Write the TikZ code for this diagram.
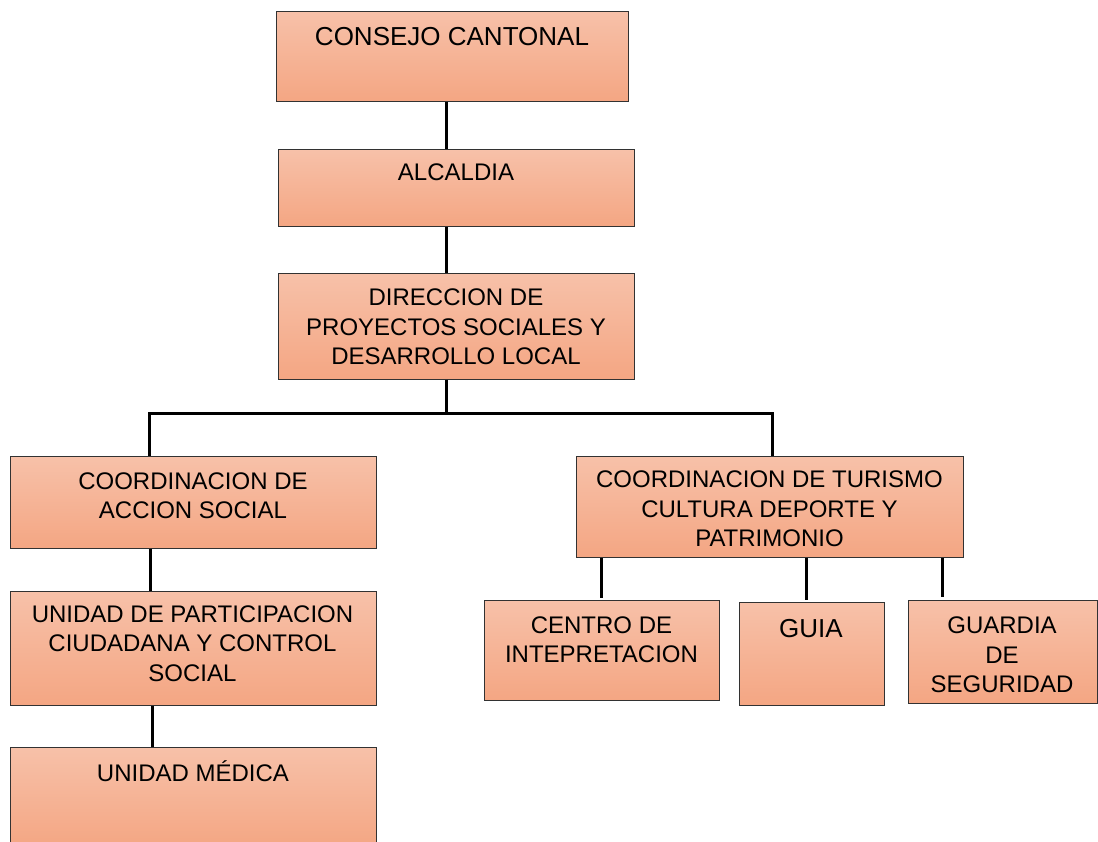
\documentclass[tikz,border=0pt]{standalone}
\usepackage{fontspec}
\setmainfont{Liberation Sans}
\definecolor{boxtop}{RGB}{247,193,169}
\definecolor{boxbot}{RGB}{244,166,131}
\definecolor{boxline}{RGB}{50,50,50}
\begin{document}
\begin{tikzpicture}[x=1pt,y=-1pt,
  box/.style={draw=boxline,line width=1pt,top color=boxtop,bottom color=boxbot,inner sep=0pt,rectangle},
  txt/.style={inner sep=0pt,align=center,font=\fontsize{24}{29.5}\selectfont},
  bigtxt/.style={inner sep=0pt,align=center,font=\fontsize{26}{31}\selectfont},
  conn/.style={line width=3pt,black}]
\useasboundingbox (0,0) rectangle (1098,841);
\begin{scope}
\clip (0,0) rectangle (1098,841);
% boxes
\node[box,minimum width=352pt,minimum height=90pt] (cc) at (452,56) {};
\node[box,minimum width=356pt,minimum height=77pt] (alc) at (456,187.5) {};
\node[box,minimum width=356pt,minimum height=106pt] (dir) at (456,326) {};
\node[box,minimum width=366pt,minimum height=92pt] (cas) at (193,502) {};
\node[box,minimum width=387pt,minimum height=101pt] (ctur) at (769.5,506.5) {};
\node[box,minimum width=366pt,minimum height=114pt] (upc) at (193,648) {};
\node[box,minimum width=366pt,minimum height=100pt] (um) at (193,797) {};
\node[box,minimum width=235pt,minimum height=100pt] (cen) at (601.5,650) {};
\node[box,minimum width=145pt,minimum height=103pt] (guia) at (811.5,653.5) {};
\node[box,minimum width=189pt,minimum height=103pt] (gua) at (1002.5,651.5) {};
\end{scope}
% texts
\node[bigtxt] (cct) at (452,37) {CONSEJO CANTONAL};
\node[txt] (alct) at (456,172) {ALCALDIA};
\node[txt] (dirt) at (456,327) {DIRECCION DE\\PROYECTOS SOCIALES Y\\DESARROLLO LOCAL};
\node[txt] (cast) at (193,495.5) {COORDINACION DE\\ACCION SOCIAL};
\node[txt] (ctort) at (769.5,509) {COORDINACION DE TURISMO\\CULTURA DEPORTE Y\\PATRIMONIO};
\node[txt] (upct) at (192.5,643.5) {UNIDAD DE PARTICIPACION\\CIUDADANA Y CONTROL\\SOCIAL};
\node[txt] (umt) at (193,771) {UNIDAD MÉDICA};
\node[txt] (cent) at (601.5,639.5) {CENTRO DE\\INTEPRETACION};
\node[bigtxt] (guiat) at (811,629) {GUIA};
\node[txt] (guat) at (1002,655) {GUARDIA\\DE\\SEGURIDAD};
% connector coordinates
\coordinate (spine) at (446,413);
\coordinate (jl) at (149,413);
\coordinate (jr) at (772,413);
\coordinate (l1) at (150,570);
\coordinate (l2) at (152,726);
\coordinate (r1) at (601,580);
\coordinate (r2) at (806,580);
\coordinate (r3) at (942,580);
% connectors
\draw[conn] (cc.south -| spine) -- (alc.north -| spine);
\draw[conn] (alc.south -| spine) -- (dir.north -| spine);
\draw[conn] (dir.south -| spine) -- (spine);
\draw[conn] (cas.north -| jl) -- (jl) -- (jr) -- (ctur.north -| jr);
\draw[conn] (cas.south -| l1) -- (upc.north -| l1);
\draw[conn] (upc.south -| l2) -- (um.north -| l2);
\draw[conn] (ctur.south -| r1) -- ([yshift=2pt]cen.north -| r1);
\draw[conn] (ctur.south -| r2) -- ([yshift=2pt]guia.north -| r2);
\draw[conn] (ctur.south -| r3) -- ([yshift=3pt]gua.north -| r3);
\end{tikzpicture}
\end{document}
